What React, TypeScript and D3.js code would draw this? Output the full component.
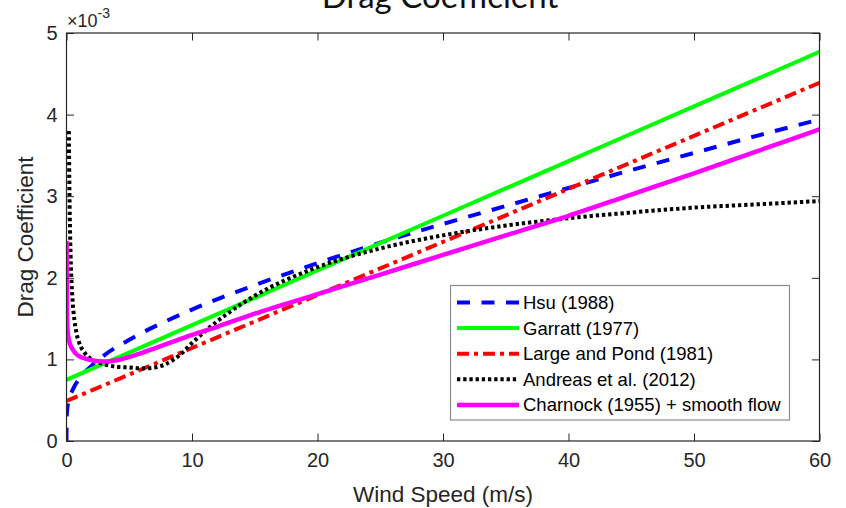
import { useEffect, useRef } from "react";
import {
  select,
  scaleLinear,
  line,
  curveMonotoneX,
  axisBottom,
  axisLeft,
  axisTop,
  axisRight,
} from "d3";
////
///// data [Cd in 1e-3]
const hsuU = [0, 0.01, 0.05, 0.1, 0.2, 0.5, 1, 2, 3, 5, 10, 15, 20, 25, 30, 35, 40, 45, 50, 55, 60];
const hsuCd = [0, 0.28, 0.38, 0.44, 0.51, 0.63, 0.76, 0.92, 1.05, 1.24, 1.61, 1.91, 2.18, 2.43, 2.66, 2.88, 3.1, 3.32, 3.53, 3.74, 3.94];

const garrattU = [0, 10, 20, 30, 40, 50, 60];
const garrattCd = [0.75, 1.42, 2.09, 2.76, 3.43, 4.1, 4.77];

const largePondU = [0, 10, 20, 30, 40, 50, 60];
const largePondCd = [0.49, 1.14, 1.79, 2.44, 3.09, 3.74, 4.39];

const andreasU = [0.19, 0.2, 0.25, 0.3, 0.4, 0.5, 0.75, 1, 1.5, 2, 3, 4, 5, 6, 7, 8, 9, 10, 11, 13, 15, 20, 25, 30, 35, 40, 45, 50, 55, 60];
const andreasCd = [3.8, 3.59, 2.87, 2.44, 1.95, 1.69, 1.36, 1.21, 1.07, 1.0, 0.94, 0.91, 0.9, 0.89, 0.9, 0.95, 1.05, 1.2, 1.34, 1.58, 1.78, 2.13, 2.36, 2.52, 2.64, 2.73, 2.8, 2.86, 2.9, 2.94];

const charnockU = [0.01, 0.02, 0.03, 0.05, 0.1, 0.2, 0.3, 0.5, 0.75, 1, 1.5, 2, 3, 4, 5, 6, 8, 10, 12, 15, 20, 25, 30, 35, 40, 45, 50, 55, 60];
const charnockCd = [2.45, 2.0, 1.65, 1.45, 1.33, 1.23, 1.18, 1.12, 1.07, 1.04, 1.01, 0.99, 0.975, 0.99, 1.03, 1.08, 1.19, 1.3, 1.4, 1.56, 1.8, 2.04, 2.28, 2.52, 2.76, 3.02, 3.28, 3.55, 3.82];

const xTicks = [0, 10, 20, 30, 40, 50, 60];
const yTicks = [0, 1, 2, 3, 4, 5];

const SERIES = [
  { name: "Hsu (1988)", u: hsuU, cd: hsuCd, color: "#0000ff", dash: "13,11.5", width: 4 },
  { name: "Garratt (1977)", u: garrattU, cd: garrattCd, color: "#00ff00", dash: null, width: 4 },
  { name: "Large and Pond (1981)", u: largePondU, cd: largePondCd, color: "#ff0000", dash: "12,5,4,5", width: 4 },
  { name: "Andreas et al. (2012)", u: andreasU, cd: andreasCd, color: "#000000", dash: "3.3,2.9", width: 4 },
  { name: "Charnock (1955) + smooth flow", u: charnockU, cd: charnockCd, color: "#ff00ff", dash: null, width: 4.5 },
];
////
/////
const W = 846;
const H = 508;
const M = { left: 66.5, right: 819.5, top: 33, bottom: 441 };
const INK = "#262626";
const FONT = "'Liberation Sans', Arial, sans-serif";

export default function App() {
  const ref = useRef<SVGSVGElement | null>(null);
  //
  useEffect(() => {
    const svg = select(ref.current);
    svg.selectAll("*").remove();
    //
    const x = scaleLinear().domain([0, 60]).range([M.left, M.right]);
    const y = scaleLinear().domain([0, 5]).range([M.bottom, M.top]);
    //
    svg.append("rect").attr("width", W).attr("height", H).attr("fill", "#fff");
    //
    // title (partly off the top, as in the source figure)
    svg
      .append("text")
      .attr("x", 440)
      .attr("y", 8)
      .attr("text-anchor", "middle")
      .attr("font-family", "Lato, 'Open Sans', sans-serif")
      .attr("font-size", 33)
      .attr("fill", "#111")
      .text("Drag Coefficient");
    //
    svg
      .append("defs")
      .append("clipPath")
      .attr("id", "plot-clip")
      .append("rect")
      .attr("x", M.left)
      .attr("y", M.top)
      .attr("width", M.right - M.left)
      .attr("height", M.bottom - M.top);
    //
    // lines
    const lineGen = line<[number, number]>()
      .x((d) => x(d[0]))
      .y((d) => y(d[1]))
      .curve(curveMonotoneX);
    const graph = svg.append("g").attr("clip-path", "url(#plot-clip)");
    SERIES.forEach((s) => {
      const pts = s.u.map((u, i) => [u, s.cd[i]] as [number, number]);
      graph
        .append("path")
        .attr("d", lineGen(pts))
        .attr("fill", "none")
        .attr("stroke", s.color)
        .attr("stroke-width", s.width)
        .attr("stroke-dasharray", s.dash)
        .attr("stroke-linejoin", "round");
    });
    //
    // axes, ticks inward on all four sides
    const styleAxis = (g: any) => {
      g.select(".domain").remove();
      g.selectAll("line").attr("stroke", INK).attr("stroke-width", 1);
      g.selectAll("text")
        .attr("fill", INK)
        .attr("font-family", FONT)
        .attr("font-size", 20);
    };
    svg
      .append("g")
      .attr("transform", `translate(0,${M.bottom})`)
      .call(axisBottom(x).tickValues(xTicks).tickSize(-7.5).tickPadding(12))
      .call(styleAxis);
    svg
      .append("g")
      .attr("transform", `translate(0,${M.top})`)
      .call(axisTop(x).tickValues(xTicks).tickSize(-7.5).tickFormat(() => ""))
      .call(styleAxis);
    svg
      .append("g")
      .attr("transform", `translate(${M.left},0)`)
      .call(axisLeft(y).tickValues(yTicks).tickSize(-7.5).tickPadding(9).tickFormat((d: any) => String(d)))
      .call(styleAxis);
    svg
      .append("g")
      .attr("transform", `translate(${M.right},0)`)
      .call(axisRight(y).tickValues(yTicks).tickSize(-7.5).tickFormat(() => ""))
      .call(styleAxis);
    //
    // box
    svg
      .append("rect")
      .attr("x", M.left)
      .attr("y", M.top)
      .attr("width", M.right - M.left)
      .attr("height", M.bottom - M.top)
      .attr("fill", "none")
      .attr("stroke", INK)
      .attr("stroke-width", 1.2);
    //
    // exponent
    const ex = svg
      .append("text")
      .attr("x", 67)
      .attr("y", 27)
      .attr("fill", INK)
      .attr("font-family", FONT)
      .attr("font-size", 18);
    ex.append("tspan").text("\u00d710");
    ex.append("tspan").attr("dy", -9).attr("font-size", 14).text("-3");
    //
    // axis labels
    svg
      .append("text")
      .attr("x", (M.left + M.right) / 2)
      .attr("y", 502)
      .attr("text-anchor", "middle")
      .attr("fill", INK)
      .attr("font-family", FONT)
      .attr("font-size", 22.5)
      .text("Wind Speed (m/s)");
    svg
      .append("text")
      .attr("transform", `translate(33,${(M.top + M.bottom) / 2}) rotate(-90)`)
      .attr("text-anchor", "middle")
      .attr("fill", INK)
      .attr("font-family", FONT)
      .attr("font-size", 22.5)
      .text("Drag Coefficient");
    //
    // legend
    const lg = svg.append("g");
    lg.append("rect")
      .attr("x", 450.5)
      .attr("y", 285.5)
      .attr("width", 339)
      .attr("height", 134.5)
      .attr("fill", "#fff")
      .attr("stroke", "#8c8c8c")
      .attr("stroke-width", 1.2);
    SERIES.forEach((s, i) => {
      const cy = 302.5 + i * 25.6;
      lg.append("line")
        .attr("x1", 457)
        .attr("x2", 519)
        .attr("y1", cy)
        .attr("y2", cy)
        .attr("stroke", s.color)
        .attr("stroke-width", s.width)
        .attr("stroke-dasharray", s.dash);
      lg.append("text")
        .attr("x", 523)
        .attr("y", cy)
        .attr("dy", "0.35em")
        .attr("fill", "#000")
        .attr("font-family", FONT)
        .attr("font-size", 18.5)
        .text(s.name);
    });
  }, []);
  //
  return (
    <svg
      ref={ref}
      width={W}
      height={H}
      style={{ position: "absolute", left: 0, top: 0, display: "block" }}
    />
  );
}
